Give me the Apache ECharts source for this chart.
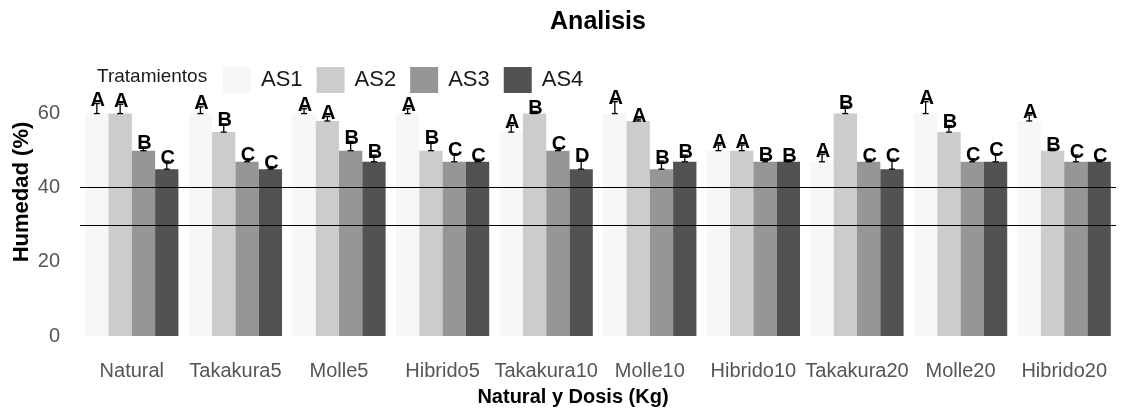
<!DOCTYPE html>
<html>
<head>
<meta charset="utf-8">
<script src="https://cdn.jsdelivr.net/npm/echarts@6/dist/echarts.min.js"></script>
<style>html,body{margin:0;padding:0;background:#fff}#c{width:1124px;height:410px}</style>
</head>
<body>
<div id="c"></div>
<script>
const categories = ['Natural','Takakura5','Molle5','Hibrido5','Takakura10','Molle10','Hibrido10','Takakura20','Molle20','Hibrido20'];
const treatments = ['AS1','AS2','AS3','AS4'];
const AS1 = [60, 60, 60, 60, 55, 60, 50, 47, 60, 58];
const AS2 = [60, 55, 58, 50, 60, 58, 50, 60, 55, 50];
const AS3 = [50, 47, 50, 47, 50, 45, 47, 47, 47, 47];
const AS4 = [45, 45, 47, 47, 45, 47, 47, 45, 47, 47];
const ERR1 = [2.7, 1.8, 1.3, 1.3, 1.8, 3.2, 1.5, 2.0, 3.2, 1.6];
const ERR2 = [2.5, 2.2, 1.2, 2.4, 0.6, 0.5, 1.5, 2.0, 1.8, 0.6];
const ERR3 = [1.0, 0.8, 2.5, 2.2, 0.8, 2.2, 0.8, 0.7, 0.8, 1.8];
const ERR4 = [2.2, 0.7, 1.8, 0.7, 2.7, 1.8, 0.5, 2.7, 2.2, 0.5];
const LET1 = ['A','A','A','A','A','A','A','A','A','A'];
const LET2 = ['A','B','A','B','B','A','A','B','B','B'];
const LET3 = ['B','C','B','C','C','B','B','C','C','C'];
const LET4 = ['C','C','B','C','D','B','B','C','C','C'];
const refLines = [40, 30];
const yTicks = [0, 20, 40, 60];

const values = [AS1, AS2, AS3, AS4];
const errs = [ERR1, ERR2, ERR3, ERR4];
const letters = [LET1, LET2, LET3, LET4];
const colors = ['#f7f7f7', '#cccccc', '#969696', '#525252'];
const FONT = '"Liberation Sans", Arial, sans-serif';

const series = [];
treatments.forEach((t, k) => {
  const s = {
    name: t, type: 'bar', data: values[k],
    barWidth: '22.5%', barGap: '0%',
    itemStyle: { color: colors[k] },
    emphasis: { disabled: true }, z: 2
  };
  if (k === 0) {
    s.markLine = {
      silent: true, symbol: ['none', 'none'], label: { show: false },
      lineStyle: { color: '#000', width: 1.2, type: 'solid' },
      data: refLines.map(v => ({ yAxis: v }))
    };
  }
  series.push(s);
});
treatments.forEach((t, k) => {
  series.push({
    name: t + '_err', type: 'custom', z: 5,
    data: values[k].map((v, i) => [i, v, errs[k][i]]),
    renderItem: function (params, api) {
      const i = api.value(0), v = api.value(1), e = api.value(2);
      const cw = api.size([1, 0])[0];
      const bw = cw * 0.9 / 4;
      const base = api.coord([i, v]);
      const cx = base[0] + (k - 1.5) * bw;
      const top = api.coord([i, v + e])[1];
      const cap = 3;
      const st = { stroke: '#000', lineWidth: 1.3 };
      return {
        type: 'group',
        children: [
          { type: 'line', shape: { x1: cx, y1: base[1], x2: cx, y2: top }, style: st },
          { type: 'line', shape: { x1: cx - cap, y1: top, x2: cx + cap, y2: top }, style: st },
          { type: 'line', shape: { x1: cx - cap, y1: base[1], x2: cx + cap, y2: base[1] }, style: st },
          { type: 'text', style: {
              x: cx + 1, y: top - 3, text: letters[k][params.dataIndex],
              fill: '#000', font: 'bold 20px ' + FONT,
              textAlign: 'center', textVerticalAlign: 'middle'
            } }
        ]
      };
    }
  });
});

const chart = echarts.init(document.getElementById('c'), null, { renderer: 'canvas' });
chart.setOption({
  animation: false,
  backgroundColor: '#fff',
  textStyle: { fontFamily: FONT },
  grid: { left: 80, right: 8, top: 76.5, bottom: 74, containLabel: false },
  legend: {
    data: treatments, left: 218, top: 62, icon: 'rect',
    itemWidth: 28, itemHeight: 26, itemGap: 14,
    textStyle: { fontSize: 22, color: '#1a1a1a', fontFamily: FONT, padding: [0, 0, 0, 5] },
    selectedMode: false
  },
  xAxis: {
    type: 'category', data: categories,
    axisLine: { show: false }, axisTick: { show: false },
    axisLabel: { interval: 0, fontSize: 20, color: '#555', margin: 25, fontFamily: FONT },
    splitLine: { show: false }
  },
  yAxis: {
    type: 'value', min: 0, max: 70, interval: 20,
    axisLine: { show: false }, axisTick: { show: false },
    axisLabel: {
      fontSize: 20, color: '#555', margin: 20, fontFamily: FONT, showMaxLabel: false,
      formatter: v => (yTicks.indexOf(v) >= 0 ? String(v) : '')
    },
    splitLine: { show: false }
  },
  graphic: [
    { type: 'text', x: 598, y: 22, style: { text: 'Analisis', font: 'bold 25px ' + FONT, fill: '#000', textAlign: 'center', textVerticalAlign: 'middle' } },
    { type: 'text', x: 97, y: 77, style: { text: 'Tratamientos', font: '19px ' + FONT, fill: '#1a1a1a', textAlign: 'left', textVerticalAlign: 'middle' } },
    { type: 'text', x: 573, y: 397, style: { text: 'Natural y Dosis (Kg)', font: 'bold 20px ' + FONT, fill: '#000', textAlign: 'center', textVerticalAlign: 'middle' } },
    { type: 'text', x: 22, y: 192, rotation: Math.PI / 2, style: { text: 'Humedad (%)', font: 'bold 22px ' + FONT, fill: '#000', textAlign: 'center', textVerticalAlign: 'middle' } }
  ],
  series: series
});
</script>
</body>
</html>
